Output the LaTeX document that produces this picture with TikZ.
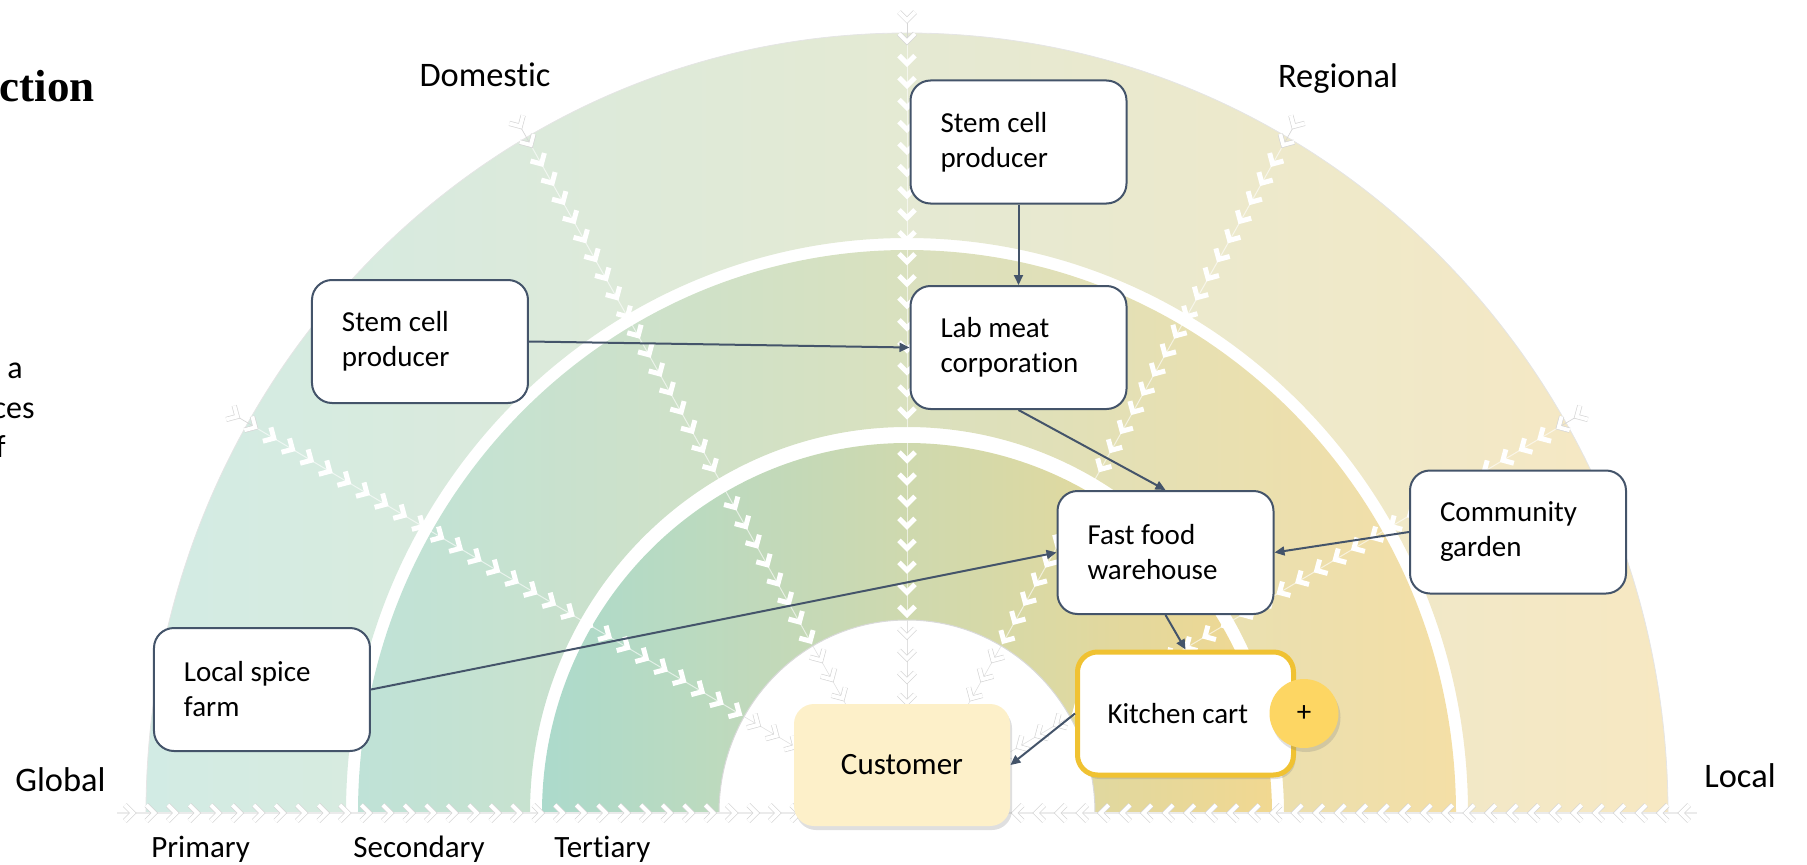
\documentclass[tikz,border=0pt]{standalone}
\usepackage{fontspec}
\setmainfont{Carlito}[Ligatures=NoCommon]
\newfontfamily\headfont{Liberation Serif}
\usetikzlibrary{arrows.meta,shadows}

\definecolor{slate}{HTML}{44546A}
\definecolor{cartgold}{HTML}{F0C232}
\definecolor{plusgold}{HTML}{FDD663}
\definecolor{cream}{HTML}{FDF0C9}
\definecolor{primL}{HTML}{D2EBE4}
\definecolor{primM}{HTML}{E3E9D4}
\definecolor{primR}{HTML}{F7E8C2}
\definecolor{secL}{HTML}{BFE2D7}
\definecolor{secM}{HTML}{D9E0C0}
\definecolor{secR}{HTML}{F4DFA6}
\definecolor{terL}{HTML}{ACDACC}
\definecolor{terM}{HTML}{D5DCAF}
\definecolor{terR}{HTML}{F1D891}

\begin{document}
\begin{tikzpicture}[x=0.5pt, y=0.5pt, >={Triangle[length=5pt,width=4.5pt]},
    actor/.style={draw=slate, line width=1pt, fill=white, rounded corners=10pt, text width=78pt, inner xsep=15pt, inner ysep=0pt, minimum height=61.5pt, align=flush left, font=\fontsize{14.5}{17.5}\selectfont},
    flow/.style={->, draw=slate, line width=1pt},
    chev/.style={white, line width=2.5pt},
    chevline/.style={draw=black!16, line width=0.35pt, double=white, double distance=1.9pt},
    softshadow/.style={drop shadow={shadow xshift=1pt, shadow yshift=-2pt, opacity=0.25}}]
        \useasboundingbox (-907,-51) rectangle (900,813);

        % the three rings
        \shade [left color=primL, middle color=primM, right color=primR] (-761,0) arc[start angle=180, end angle=0, x radius=761, y radius=780] -- (561,0) arc[start angle=0, end angle=180, x radius=561, y radius=575] -- cycle;
        \shade [left color=secL, middle color=secM, right color=secR] (-549,0) arc[start angle=180, end angle=0, x radius=549, y radius=563] -- (377,0) arc[start angle=0, end angle=180, x radius=377, y radius=386] -- cycle;
        \shade [left color=terL, middle color=terM, right color=terR] (-365,0) arc[start angle=180, end angle=0, x radius=365, y radius=370] -- (188,0) arc[start angle=0, end angle=180, x radius=188, y radius=193] -- cycle;
        \draw [black!10, line width=0.4pt] (-761,0) arc[start angle=180, end angle=0, x radius=761, y radius=780];
        \draw [black!15, line width=0.5pt] (-188,0) arc[start angle=180, end angle=0, x radius=188, y radius=193];
        \draw [black!8, line width=0.6pt] (-790,0) -- (790,0);

        % chevrons along the spokes
        \foreach \a in {30,60,...,150} {
            \draw [black!12, line width=0.3pt] ({90*cos(\a)},{1.025*90*sin(\a)}) -- ({188*cos(\a)},{1.025*188*sin(\a)});
            \draw [white, opacity=0.6, line width=0.5pt] ({190*cos(\a)},{1.025*190*sin(\a)}) -- ({756*cos(\a)},{1.025*756*sin(\a)});
            \draw [black!16, line width=0.35pt] ({756*cos(\a)},{1.025*756*sin(\a)}) -- ({777*cos(\a)},{1.025*777*sin(\a)});
            \foreach \k [evaluate=\k as \r using 734.6-21.5*\k] in {0,...,25}
                \draw [chev, shift={({\r*cos(\a)},{1.025*\r*sin(\a)})}, rotate=\a-90] (-8,4.5) -- (0,-3.5) -- (8,4.5);
            \foreach \k [evaluate=\k as \r using 734.6-21.5*\k] in {26,...,30}
                \draw [chevline, shift={({\r*cos(\a)},{1.025*\r*sin(\a)})}, rotate=\a-90] (-8,4.5) -- (0,-3.5) -- (8,4.5);
            \foreach \r in {756,777}
                \draw [chevline, shift={({\r*cos(\a)},{1.025*\r*sin(\a)})}, rotate=\a-90] (-8,4.5) -- (0,-3.5) -- (8,4.5);
        }
        % chevrons along the base line
        \foreach \a in {0,180} {
            \foreach \k [evaluate=\k as \r using 734.6-21.5*\k] in {-2,...,30}
                \draw [chevline, shift={({\r*cos(\a)},0)}, rotate=\a-90] (-8,4.5) -- (0,-3.5) -- (8,4.5);
        }

        % scale labels
        \fontsize{17.2}{20}\selectfont
        \node [anchor=base] (domestic) at (-422,726) {Domestic};
        \node [anchor=base] (regional) at (431,725) {Regional};
        \node [anchor=base west, inner sep=0pt] (global) at (-892,22) {Global};
        \node [anchor=base west, inner sep=0pt] (local) at (797,26) {Local};
        \fontsize{15.5}{18}\selectfont
        \node [anchor=base west, inner sep=0pt] (primary) at (-756,-44) {Primary};
        \node [anchor=base west, inner sep=0pt] (secondary) at (-554,-44) {Secondary};
        \node [anchor=base west, inner sep=0pt] (tertiary) at (-353,-44) {Tertiary};

        % cut-off text at the left edge
        \node [anchor=base east, inner sep=0pt, font=\headfont\bfseries\fontsize{22.5}{27}\selectfont] (heading) at (-812,711) {ction};
        \fontsize{16}{20}\selectfont
        \node [anchor=base east, inner sep=0pt] (textA) at (-884,435) {t a};
        \node [anchor=base east, inner sep=0pt] (textB) at (-872,395) {ces};
        \node [anchor=base east, inner sep=0pt] (textC) at (-901,356) {f};

        % actors
        \node [actor] (stemtop) at (111.5,671) {Stem cell\\producer};
        \node [actor] (labmeat) at (111.5,465.5) {Lab meat\\corporation};
        \node [actor] (stemleft) at (-487,471.5) {Stem cell\\producer};
        \node [actor] (fastfood) at (258.5,260.5) {Fast food\\warehouse};
        \node [actor] (garden) at (611,281) {Community\\garden};
        \node [actor] (spice) at (-645,123.5) {Local spice\\farm};
        \node [actor, draw=cartgold, line width=2.5pt, softshadow] (kitchen) at (278.5,99.5) {Kitchen cart};
        \node [circle, fill=plusgold, minimum size=34.5pt, softshadow, font=\fontsize{14.5}{17}\selectfont] (plus) at (397,99.5) {+};
        \node [rounded corners=10pt, fill=cream, minimum width=108pt, minimum height=61pt, softshadow, font=\fontsize{15.5}{18}\selectfont] (customer) at (-5,48) {Customer};

        % flows
        \draw [flow] (stemtop) -- (labmeat);
        \draw [flow] (stemleft.east) -- (labmeat.west);
        \draw [flow] (labmeat.south) -- (fastfood.north);
        \draw [flow] (garden.west) -- (fastfood.east);
        \draw [flow] (spice.east) -- (fastfood.west);
        \draw [flow] (fastfood.south) -- (kitchen.north);
        \draw [flow] (kitchen.west) -- (customer.east);
    \end{tikzpicture}
\end{document}
